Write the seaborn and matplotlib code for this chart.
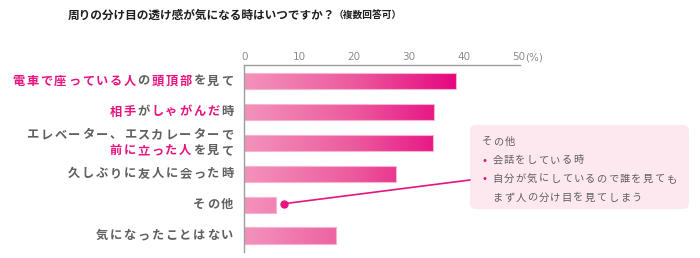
import numpy as np
import pandas as pd
import matplotlib
matplotlib.use("Agg")
import matplotlib.pyplot as plt
import seaborn as sns
from matplotlib.colors import LinearSegmentedColormap, Normalize
from matplotlib.patches import FancyBboxPatch
from matplotlib.lines import Line2D

# ---------------- data ----------------
categories = ["電車で座っている人の頭頂部を見て", "相手がしゃがんだ時",
              "エレベーター、エスカレーターで前に立った人を見て",
              "久しぶりに友人に会った時", "その他", "気になったことはない"]
values = [38.6, 34.6, 34.5, 27.7, 5.7, 16.8]
xticks = [0, 10, 20, 30, 40, 50]
xtick_labels = ["0", "10", "20", "30", "40", "50"]
unit_label = "(%)"
title_main = "周りの分け目の透け感が気になる時はいつですか？"
title_sub = "（複数回答可）"

PINK = "#e5147f"
GRAY = "#5f5f5f"
# label segments: per category, list of lines, each a list of (text, colour)
label_segments = [
    [[("電車で座っている人", PINK), ("の", GRAY), ("頭頂部", PINK), ("を見て", GRAY)]],
    [[("相手", PINK), ("が", GRAY), ("しゃがんだ", PINK), ("時", GRAY)]],
    [[("エレベーター、エスカレーターで", GRAY)],
     [("前に立った人", PINK), ("を見て", GRAY)]],
    [[("久しぶりに友人に会った時", GRAY)]],
    [[("その他", GRAY)]],
    [[("気になったことはない", GRAY)]],
]
note_title = "その他"
note_items = [["会話をしている時"], ["自分が気にしているので誰を見ても", "まず人の分け目を見てしまう"]]

# ---------------- style ----------------
sns.set_style("white")
plt.rcParams["font.family"] = ["Noto Sans CJK JP", "DejaVu Sans"]

W, H = 700, 258
fig = plt.figure(figsize=(W / 100, H / 100), dpi=100)
tr = fig.dpi_scale_trans


def P(x, y):
    return (x / 100.0, (H - y) / 100.0)


ax = fig.add_axes([244.3 / W, 1 - 252 / H, 275.7 / W, (252 - 65) / H])

df = pd.DataFrame({"category": categories, "value": values})
sns.barplot(data=df, x="value", y="category", orient="h", ax=ax,
            color="#ee6fa5", width=0.53, errorbar=None, saturation=1)

# gradient fill clipped to each bar
cmap = LinearSegmentedColormap.from_list("pk", ["#f393bb", "#ec5a9d", "#e6007e"])
grad = np.linspace(0, 50.3, 400)[None, :]
for patch in list(ax.patches):
    im = ax.imshow(grad, extent=[0, 50.3, 5.6, -0.6], aspect="auto", cmap=cmap,
                   norm=Normalize(0, 40, clip=True), zorder=1, interpolation="bilinear")
    im.set_clip_path(patch)
    patch.set_facecolor("none")
    patch.set_edgecolor("#f7b3cf")
    patch.set_linewidth(0.8)
    patch.set_zorder(2)

ax.set_xlim(0, 50.3)
ax.set_ylim(5.53, -0.52)
ax.set_xlabel("")
ax.set_ylabel("")
ax.set_yticks([])
ax.xaxis.tick_top()
ax.set_xticks(xticks)
ax.set_xticklabels(xtick_labels, fontsize=7.5, color="#8c8c8c", family="DejaVu Sans")
ax.tick_params(axis="x", length=0, pad=2.5)
for s in ["right", "bottom"]:
    ax.spines[s].set_visible(False)
for s in ["top", "left"]:
    ax.spines[s].set_color("#9d9d9d")
    ax.spines[s].set_linewidth(1.0)
ax.set_facecolor("none")

fig.text(*P(525, 57), unit_label, transform=tr, ha="left", va="center",
         fontsize=7.5, color="#8c8c8c", family="DejaVu Sans")

# title
fig.text(*P(68, 15), title_main, transform=tr, ha="left", va="center",
         fontsize=8.4, fontweight="bold", color="#1e1e1e")
fig.text(*P(334, 15), title_sub, transform=tr, ha="left", va="center",
         fontsize=7.0, fontweight="bold", color="#1e1e1e")


def draw_chars(segments, x_right, y, pitch, size):
    chars = []
    for text, col in segments:
        for ch in text:
            chars.append((ch, col))
    n = len(chars)
    for i, (ch, col) in enumerate(chars):
        x = x_right - (n - i - 0.5) * pitch
        fig.text(*P(x, y), ch, transform=tr, ha="center", va="center",
                 fontsize=size, color=col, fontweight="bold")


def draw_chars_left(text, x_left, y, pitch, size, col):
    for i, ch in enumerate(text):
        x = x_left + (i + 0.5) * pitch
        fig.text(*P(x, y), ch, transform=tr, ha="center", va="center",
                 fontsize=size, color=col)


# category labels (positions follow the bar centres)
bar_centers_px = []
for i in range(len(categories)):
    yd = ax.transData.transform((0, i))[1]
    bar_centers_px.append(H - yd)

for i, lines in enumerate(label_segments):
    yc = bar_centers_px[i]
    nl = len(lines)
    for j, segs in enumerate(lines):
        y = yc + (j - (nl - 1) / 2) * 15.5
        draw_chars(segs, 234, y, 13.9, 8.8)

# note box
box = FancyBboxPatch(P(470, 209), 219 / 100, 84 / 100,
                     boxstyle="round,pad=0,rounding_size=0.06",
                     transform=tr, facecolor="#fde8f0", edgecolor="none", zorder=0)
fig.add_artist(box)

# connector line and dot
dot_y = bar_centers_px[4] - 1
fig.add_artist(Line2D([P(284, dot_y)[0], P(470, 180)[0]], [P(284, dot_y)[1], P(470, 180)[1]],
                      transform=tr, color="#e5147f", lw=1.2))
fig.add_artist(Line2D([P(284, dot_y)[0]], [P(284, dot_y)[1]], transform=tr,
                      marker="o", markersize=5, color="#e5147f", lw=0))

draw_chars_left(note_title, 481, 142, 11.6, 7.4, GRAY)
ys = [160.5, 179]
for k, item in enumerate(note_items):
    y = ys[k]
    fig.text(*P(484.5, y), "•", transform=tr, ha="center", va="center",
             fontsize=7.5, color="#e5147f", family="DejaVu Sans")
    for li, line in enumerate(item):
        draw_chars_left(line, 491.5, y + li * 18.5, 11.6, 7.4, GRAY)

fig.savefig("out.png", dpi=100)
